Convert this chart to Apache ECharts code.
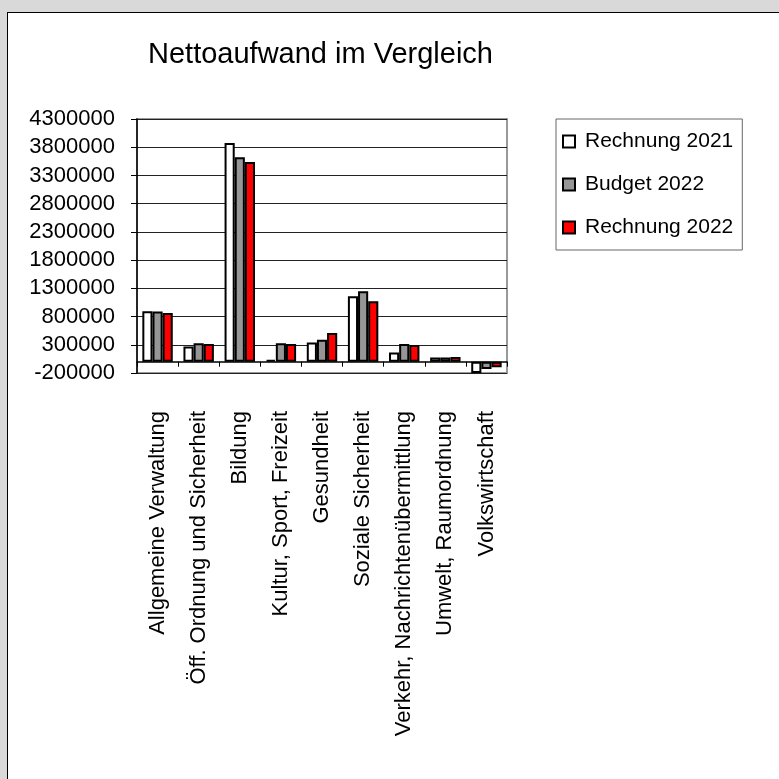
<!DOCTYPE html>
<html lang="de">
<head>
    <meta charset="UTF-8">
    <title>Nettoaufwand im Vergleich</title>
    <script src="https://cdn.jsdelivr.net/npm/echarts@6/dist/echarts.min.js"></script>
    <style>
        body {
            margin: 0;
            background-color: #d9d9d9;
            width: 779px;
            height: 779px;
            overflow: hidden;
            position: relative;
        }
        #panel {
            position: absolute;
            left: 7px;
            top: 12px;
            right: 0;
            bottom: 0;
            background: #ffffff;
            border-left: 1px solid #000;
            border-top: 1px solid #000;
        }
        #chart {
            position: absolute;
            left: 0;
            top: 0;
            width: 779px;
            height: 779px;
        }
    </style>
</head>
<body>
    <div id="panel"></div>
    <div id="chart"></div>
    <script>
        let categories = [
            'Allgemeine Verwaltung',
            'Öff. Ordnung und Sicherheit',
            'Bildung',
            'Kultur, Sport, Freizeit',
            'Gesundheit',
            'Soziale Sicherheit',
            'Verkehr, Nachrichtenübermittlung',
            'Umwelt, Raumordnung',
            'Volkswirtschaft'
        ];
        let rechnung2021 = [895000, 271000, 3876000, 30000, 342000, 1158000, 165000, 76000, -200000];
        let budget2022 = [890000, 325000, 3623000, 325000, 390000, 1247000, 314000, 76000, -130000];
        let rechnung2022 = [863000, 314000, 3540000, 314000, 509000, 1069000, 296000, 82000, -100000];

        let font = '"Liberation Sans", Arial, sans-serif';
        let barBorder = { borderColor: '#000', borderWidth: 2 };

        let option = {
            animation: false,
            textStyle: { fontFamily: font, color: '#000' },
            title: {
                text: 'Nettoaufwand im Vergleich',
                left: 148,
                top: 40,
                padding: 0,
                textStyle: { fontFamily: font, fontSize: 29, fontWeight: 'normal', color: '#000' }
            },
            legend: {
                orient: 'vertical',
                left: 556,
                top: 119,
                padding: [12, 9, 12, 6],
                itemGap: 22,
                itemWidth: 12,
                itemHeight: 12,
                borderColor: '#666',
                borderWidth: 1,
                icon: 'rect',
                itemStyle: { borderColor: '#000', borderWidth: 2 },
                textStyle: { fontFamily: font, fontSize: 21, color: '#000', padding: [0, 0, 0, 5] },
                data: ['Rechnung 2021', 'Budget 2022', 'Rechnung 2022']
            },
            grid: {
                left: 137,
                top: 119,
                width: 370,
                height: 254,
                show: true,
                borderColor: '#999',
                borderWidth: 2,
                backgroundColor: 'transparent'
            },
            xAxis: {
                type: 'category',
                data: categories,
                axisLine: { onZero: true, lineStyle: { color: '#000', width: 1.5 } },
                axisTick: { show: true, length: 5, lineStyle: { color: '#000' } },
                axisLabel: {
                    rotate: 90,
                    margin: 38,
                    interval: 0,
                    fontFamily: font,
                    fontSize: 22,
                    color: '#000'
                }
            },
            yAxis: {
                type: 'value',
                min: -200000,
                max: 4300000,
                interval: 500000,
                axisLine: { show: true, lineStyle: { color: '#000', width: 1.5 } },
                axisTick: { show: true, length: 6, lineStyle: { color: '#000' } },
                axisLabel: {
                    margin: 22,
                    fontFamily: font,
                    fontSize: 22,
                    color: '#000',
                    formatter: function (v) { return String(v); }
                },
                splitLine: { lineStyle: { color: '#222', width: 1 } }
            },
            series: [
                {
                    name: 'Rechnung 2021',
                    type: 'bar',
                    barGap: '0%',
                    barCategoryGap: '26%',
                    itemStyle: Object.assign({ color: '#ffffff' }, barBorder),
                    data: rechnung2021
                },
                {
                    name: 'Budget 2022',
                    type: 'bar',
                    barGap: '0%',
                    barCategoryGap: '26%',
                    itemStyle: Object.assign({ color: '#969696' }, barBorder),
                    data: budget2022
                },
                {
                    name: 'Rechnung 2022',
                    type: 'bar',
                    barGap: '0%',
                    barCategoryGap: '26%',
                    itemStyle: Object.assign({ color: '#ff0000' }, barBorder),
                    data: rechnung2022
                }
            ]
        };

        let chart = echarts.init(document.getElementById('chart'));
        chart.setOption(option);
    </script>
</body>
</html>
